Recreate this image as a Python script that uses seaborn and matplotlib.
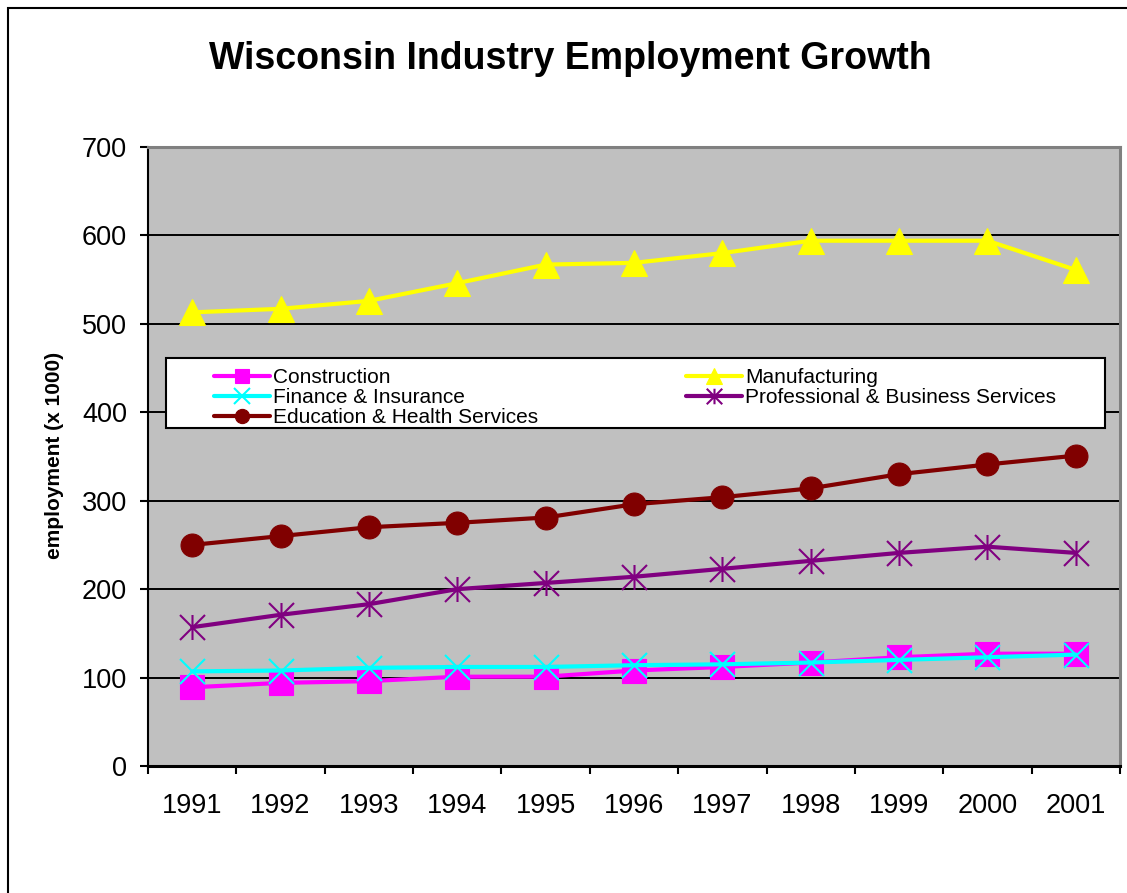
import numpy as np
import pandas as pd
import matplotlib
matplotlib.use("Agg")
import matplotlib.pyplot as plt
from matplotlib.path import Path
from matplotlib.patches import Rectangle
import seaborn as sns

# ---------------- data ----------------
years = ["1991", "1992", "1993", "1994", "1995", "1996", "1997", "1998", "1999", "2000", "2001"]
construction = [89, 94, 96, 101, 101, 108, 112, 117, 123, 127, 127]
manufacturing = [513, 517, 526, 546, 567, 569, 580, 594, 594, 594, 561]
finance = [107, 108, 111, 112, 112, 114, 115, 117, 120, 123, 126]
professional = [157, 171, 183, 200, 207, 214, 223, 232, 241, 248, 241]
education = [250, 260, 270, 275, 281, 296, 304, 314, 330, 341, 351]

title = "Wisconsin Industry Employment Growth"
ylabel = "employment (x 1000)"
yticks = [0, 100, 200, 300, 400, 500, 600, 700]

# ---------------- style ----------------
sns.set_theme(style="white")
plt.rcParams["font.family"] = ["Liberation Sans", "DejaVu Sans"]

asterisk = Path([(0, -1), (0, 1), (-1, -1), (1, 1), (-1, 1), (1, -1)],
                [Path.MOVETO, Path.LINETO, Path.MOVETO, Path.LINETO, Path.MOVETO, Path.LINETO])

fig = plt.figure(figsize=(11.27, 8.93), dpi=100)
ax = fig.add_axes([0.1313, 0.1422, 0.8625, 0.6932])
ax.set_facecolor("#C0C0C0")

x = np.arange(len(years))

series = [
    ("Construction", construction, "#FF00FF", dict(marker="s", markersize=17,
                                                   markerfacecolor="#FF00FF", markeredgecolor="#FF00FF",
                                                   markeredgewidth=0.8)),
    ("Manufacturing", manufacturing, "#FFFF00", dict(marker="^", markersize=18.5,
                                                     markerfacecolor="#FFFF00", markeredgecolor="#FFFF00",
                                                     markeredgewidth=0.8)),
    ("Finance & Insurance", finance, "#00FFFF", dict(marker="x", markersize=18,
                                                     markeredgecolor="#00FFFF", markeredgewidth=1.5)),
    ("Professional & Business Services", professional, "#800080", dict(marker=asterisk, markersize=18,
                                                                       markerfacecolor="none",
                                                                       markeredgecolor="#800080",
                                                                       markeredgewidth=1.5)),
    ("Education & Health Services", education, "#800000", dict(marker="o", markersize=16.5,
                                                               markerfacecolor="#800000",
                                                               markeredgecolor="#800000",
                                                               markeredgewidth=0.8)),
]

handles = {}
for name, vals, col, mk in series:
    df = pd.DataFrame({"x": x, "v": vals})
    sns.lineplot(data=df, x="x", y="v", ax=ax, color=col, linewidth=3.0, label=name, **mk)
    handles[name] = ax.lines[-1]

# axes limits / ticks
ax.set_xlim(-0.5, len(years) - 0.5)
ax.set_ylim(yticks[0], yticks[-1])
ax.set_yticks(yticks)
ax.set_yticklabels([str(v) for v in yticks])
ax.set_xticks(x)
ax.set_xticklabels(years)
ax.set_xticks(np.arange(-0.5, len(years)), minor=True)
ax.tick_params(axis="x", which="major", length=0, pad=19.5, labelsize=19.5, colors="black")
ax.tick_params(axis="x", which="minor", length=6, width=1.5, direction="out", color="black", bottom=True)
ax.tick_params(axis="y", which="major", length=6, width=1.5, direction="out", pad=9,
               labelsize=19.5, colors="black", left=True)
ax.set_xlabel("")
ax.set_ylabel(ylabel, fontsize=15, fontweight="bold", color="black")
ax.yaxis.label.set(va="center", ha="center")
ax.yaxis.set_label_coords(-0.0957, 0.5024)

# grid
ax.set_axisbelow(True)
ax.yaxis.grid(True, color="black", linewidth=1.4)
ax.xaxis.grid(False)

# spines
ax.spines["left"].set(color="black", linewidth=1.5)
ax.spines["bottom"].set(color="black", linewidth=2.2)
ax.spines["top"].set(color="#808080", linewidth=2.2)
ax.spines["right"].set(color="#808080", linewidth=2.2)
for s in ax.spines.values():
    s.set_zorder(3)

# legend box
lg = ax.get_legend()
if lg is not None:
    lg.remove()
ax.add_patch(Rectangle((0.0185, 0.546), 0.9661, 0.113, transform=ax.transAxes,
                       facecolor="white", edgecolor="black", linewidth=1.5, zorder=4))
order = ["Construction", "Finance & Insurance", "Education & Health Services",
         "Manufacturing", "Professional & Business Services"]
leg = ax.legend([handles[n] for n in order], order, ncol=2, loc="upper left",
                bbox_to_anchor=(0.0679, 0.5430, 0.866, 0.1), mode="expand",
                frameon=False, fontsize=15, handlelength=2.7, handletextpad=0.12,
                labelspacing=0.05, borderpad=0, borderaxespad=0, markerscale=0.62)
leg.set_zorder(5)
for t in leg.get_texts():
    t.set_color("black")

# title
fig.text(570 / 1127, 1 - 59 / 893, title, ha="center", va="center",
         fontsize=27, fontweight="bold", color="black")

# outer chart border
fig.patches.append(Rectangle((8 / 1127, -0.1), 1.2, 1.1 - 8 / 893,
                             transform=fig.transFigure, fill=False,
                             edgecolor="black", linewidth=1.5))

fig.savefig("out.png", dpi=100)
